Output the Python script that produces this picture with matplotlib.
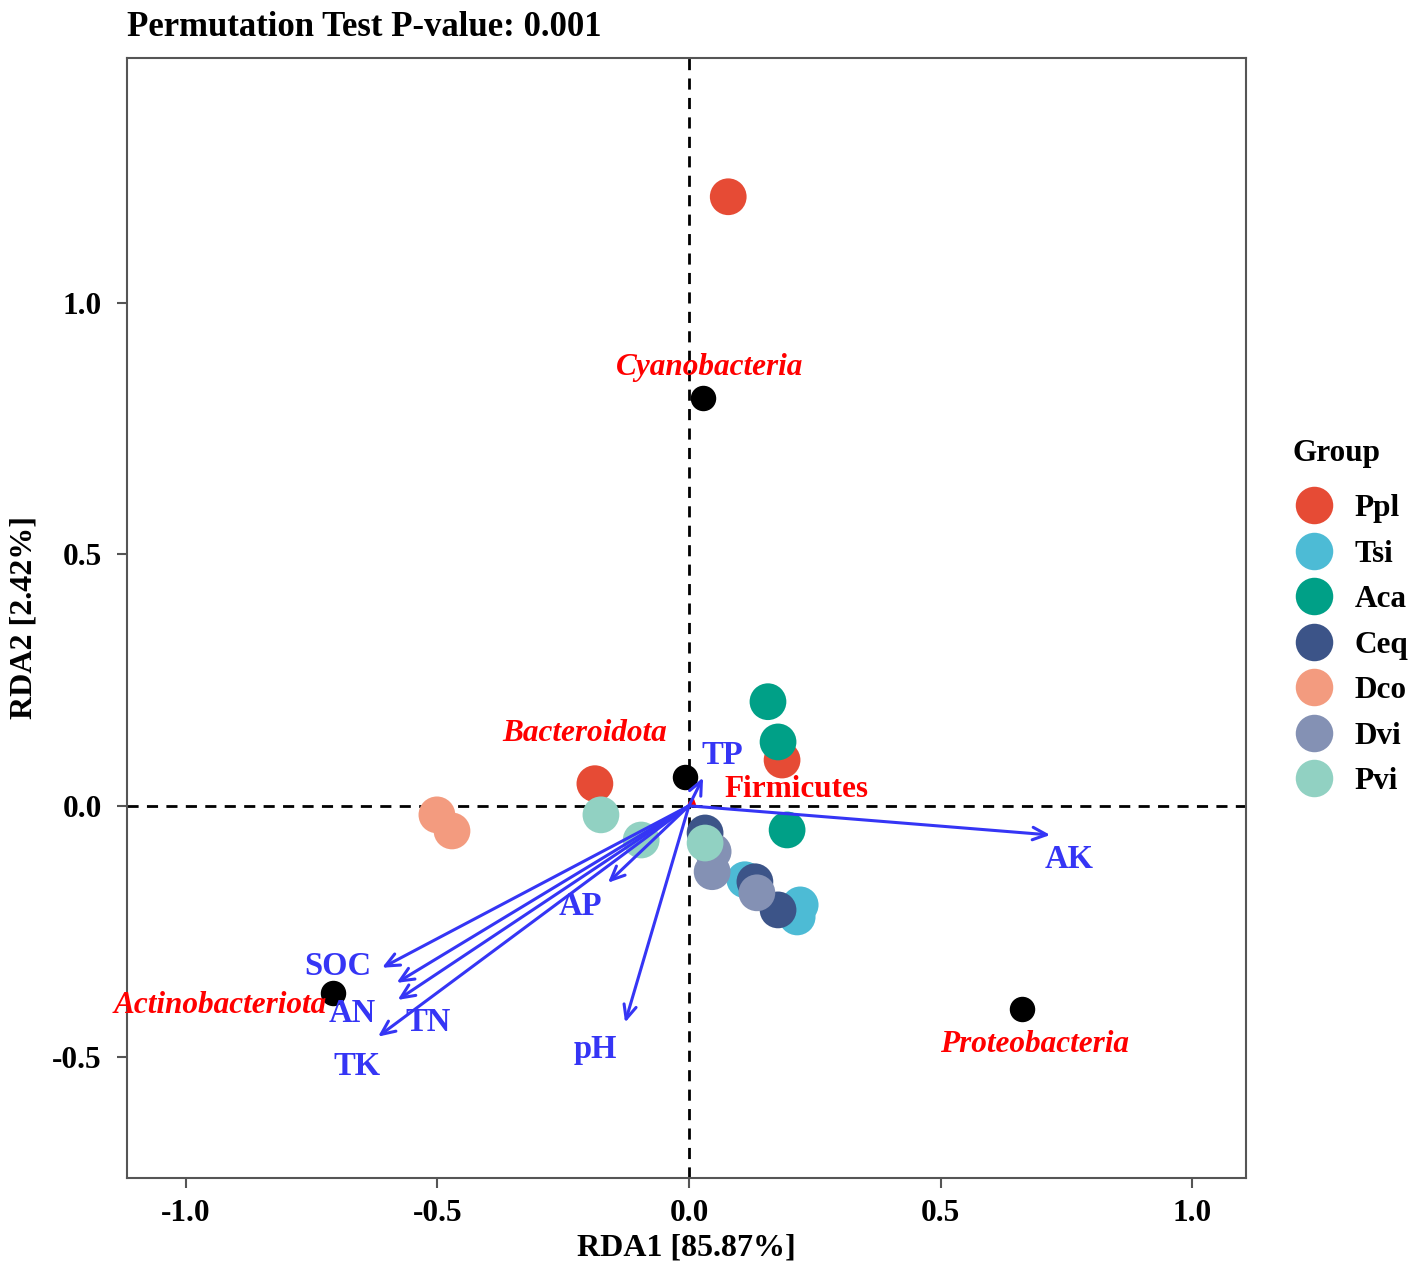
import matplotlib
matplotlib.use("Agg")
import matplotlib.pyplot as plt
from matplotlib.lines import Line2D

plt.rcParams['font.family'] = ['Liberation Serif', 'DejaVu Serif']
plt.rcParams['font.weight'] = 'bold'
plt.rcParams['axes.unicode_minus'] = False

# sample scores (RDA1, RDA2) per group
groups = ["Ppl", "Tsi", "Aca", "Ceq", "Dco", "Dvi", "Pvi"]
colors = ["#E64B35", "#4DBBD5", "#00A087", "#3C5488", "#F39B7F", "#8491B4", "#91D1C2"]
rda1 = {
    "Ppl": [0.078, -0.187, 0.185],
    "Tsi": [0.111, 0.221, 0.215],
    "Aca": [0.157, 0.177, 0.195],
    "Ceq": [0.032, 0.131, 0.177],
    "Dco": [-0.501, -0.471],
    "Dvi": [0.048, 0.046, 0.135],
    "Pvi": [-0.175, -0.095, 0.032],
}
rda2 = {
    "Ppl": [1.211, 0.044, 0.091],
    "Tsi": [-0.147, -0.197, -0.221],
    "Aca": [0.207, 0.127, -0.048],
    "Ceq": [-0.054, -0.151, -0.207],
    "Dco": [-0.018, -0.050],
    "Dvi": [-0.091, -0.131, -0.173],
    "Pvi": [-0.018, -0.068, -0.074],
}
draw_order = ["Ppl", "Aca", "Dco", "Tsi", "Ceq", "Dvi", "Pvi"]

# environmental factor arrows
env_names = ["TP", "AK", "AP", "SOC", "AN", "TN", "TK", "pH"]
env_x = [0.028, 0.718, -0.161, -0.610, -0.581, -0.579, -0.618, -0.127]
env_y = [0.056, -0.058, -0.153, -0.322, -0.352, -0.386, -0.459, -0.431]
env_lab_x = [0.066, 0.755, -0.215, -0.698, -0.670, -0.519, -0.660, -0.187]
env_lab_y = [0.101, -0.107, -0.201, -0.320, -0.412, -0.431, -0.519, -0.485]

# species (phyla) scores
sp_names = ["Cyanobacteria", "Bacteroidota", "Firmicutes", "Actinobacteriota", "Proteobacteria"]
sp_x = [0.028, -0.008, 0.010, -0.708, 0.662]
sp_y = [0.811, 0.058, 0.012, -0.372, -0.404]
sp_lab_x = [0.042, -0.207, 0.213, -0.932, 0.686]
sp_lab_y = [0.871, 0.143, 0.032, -0.398, -0.475]
sp_italic = [True, True, False, True, True]

fig = plt.figure(figsize=(14.17, 12.68), dpi=100)
ax = fig.add_axes([0.0896, 0.0710, 0.7897, 0.8833])

ax.axhline(0, color="black", linestyle=(0, (4, 3)), linewidth=2, zorder=1)
ax.axvline(0, color="black", linestyle=(0, (4, 3)), linewidth=2, zorder=1)

for g in draw_order:
    c = colors[groups.index(g)]
    ax.scatter(rda1[g], rda2[g], s=700, color=c, edgecolors="none", zorder=2)

# species points (Firmicutes sits under the origin)
for i, name in enumerate(sp_names):
    if name == "Firmicutes":
        ax.annotate("", xy=(sp_x[i], sp_y[i] + 0.01), xytext=(0.004, -0.004),
                    arrowprops=dict(arrowstyle="->,head_length=0.3,head_width=0.2",
                                    color="red", lw=2), zorder=3)
    else:
        ax.scatter(sp_x[i], sp_y[i], s=300, color="black", zorder=4)
    ax.text(sp_lab_x[i], sp_lab_y[i], name, color="red", fontsize=22.5,
            fontstyle="italic" if sp_italic[i] else "normal", fontweight="bold",
            ha="center", va="center", zorder=5)

for i, name in enumerate(env_names):
    ax.annotate("", xy=(env_x[i], env_y[i]), xytext=(0, 0),
                arrowprops=dict(arrowstyle="->,head_length=1.0,head_width=0.45",
                                color="#3535F5", lw=2.2, shrinkA=0, shrinkB=0),
                zorder=4)
    ax.text(env_lab_x[i], env_lab_y[i], name, color="#3535F5", fontsize=23.5,
            fontweight="bold", ha="center", va="center", zorder=5)

ax.set_xlim(-1.117, 1.107)
ax.set_ylim(-0.740, 1.487)
ax.set_xticks([-1.0, -0.5, 0.0, 0.5, 1.0])
ax.set_yticks([-0.5, 0.0, 0.5, 1.0])
ax.tick_params(direction="out", length=7, width=1.5, color="#555555",
               labelsize=22.5, pad=8)
ax.tick_params(axis="y", pad=11)
for lab in ax.get_xticklabels() + ax.get_yticklabels():
    lab.set_fontweight("bold")
for sp in ax.spines.values():
    sp.set_color("#555555")
    sp.set_linewidth(1.5)

ax.set_xlabel("RDA1 [85.87%]", fontsize=23, fontweight="bold", labelpad=4)
ax.set_ylabel("RDA2 [2.42%]", fontsize=23, fontweight="bold", labelpad=10)
ax.set_title("Permutation Test P-value: 0.001", fontsize=25, fontweight="bold",
             loc="left", pad=16, x=0.0)

handles = [Line2D([], [], marker="o", linestyle="none", markersize=27,
                  markerfacecolor=c, markeredgecolor="none") for c in colors]
leg = fig.legend(handles, groups, title="Group", loc="center left",
                 bbox_to_anchor=(0.892, 0.513), frameon=False, fontsize=22.5,
                 title_fontsize=22.5, labelspacing=0.53, handletextpad=0.6,
                 handlelength=1.4)
leg.get_title().set_fontweight("bold")
leg._legend_box.align = "left"
leg._legend_box.sep += 7

fig.savefig("out.png", dpi=100)
